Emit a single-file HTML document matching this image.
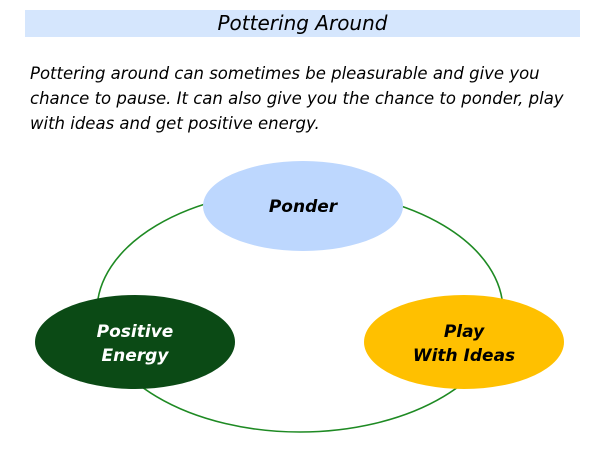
<!DOCTYPE html>
<html><head><style>
body{margin:0;width:600px;height:450px;background:#fff;position:relative;overflow:hidden;font-family:"DejaVu Sans","Liberation Sans",sans-serif;}
.bar{position:absolute;left:25px;top:10px;width:555px;height:27px;background:#d5e6fd;}
.title{position:absolute;left:25px;width:555px;top:10px;height:27px;line-height:27px;text-align:center;font-style:italic;font-size:20px;color:#000;}
.p{position:absolute;left:30px;top:61px;width:560px;font-style:italic;font-size:16.5px;line-height:25px;color:#000;}
svg{position:absolute;left:0;top:0;}
</style></head><body>
<div class="bar"></div><div class="title">Pottering Around</div>
<div class="p">Pottering around can sometimes be pleasurable and give you chance to pause. It can also give you the chance to ponder, play with ideas and get positive energy.</div>
<svg width="600" height="450" font-family="DejaVu Sans, Liberation Sans, sans-serif" font-weight="bold" font-style="italic" font-size="17" text-anchor="middle">
<ellipse cx="300" cy="311" rx="203" ry="121" fill="none" stroke="#1e8a23" stroke-width="1.6"/>
<ellipse cx="303" cy="206" rx="100" ry="45" fill="#bdd7fe"/>
<ellipse cx="135" cy="342" rx="100" ry="47" fill="#0b4a15"/>
<ellipse cx="464" cy="342" rx="100" ry="47" fill="#ffc000"/>
<text x="303" y="212" fill="#000">Ponder</text>
<text x="135" y="337" fill="#fff">Positive</text>
<text x="135" y="361" fill="#fff">Energy</text>
<text x="464" y="337" fill="#000">Play</text>
<text x="464" y="361" fill="#000">With Ideas</text>
</svg>
</body></html>
